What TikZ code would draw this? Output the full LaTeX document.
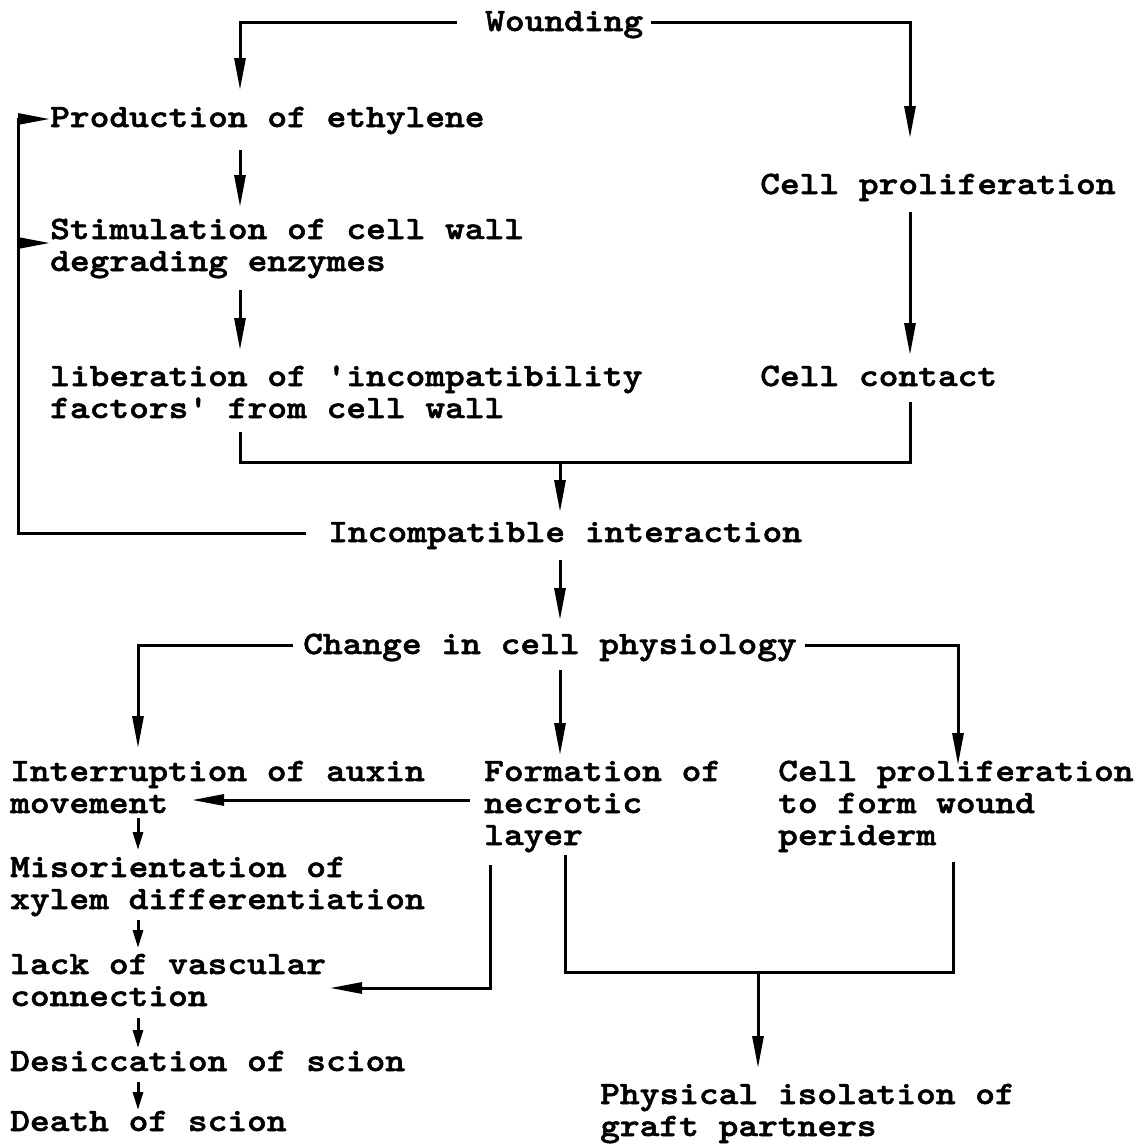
\documentclass[tikz,border=0pt]{standalone}
\usepackage{fontspec}
\newfontfamily\twfont{lmmonolt10-bold.otf}[FakeStretch=1.15,FakeBold=1.6]
\usetikzlibrary{arrows.meta}
% multi-line label whose base is the first line
\newcommand{\mlines}[1]{\begin{tabular}[t]{@{}l@{}}#1\end{tabular}}
\begin{document}
\begin{tikzpicture}[x=1pt,y=-1pt,
  lbl/.style={anchor=base west, inner sep=0pt,
    font=\twfont\fontsize{32.7}{32}\selectfont},
  ln/.style={line width=3pt},
  arr/.style={ln,-{Triangle[length=32pt,width=11pt]}},
  sarr/.style={ln,-{Triangle[length=18pt,width=10pt]}}]
\useasboundingbox (0,0) rectangle (1143,1144);

% vertical guide columns for the connectors
\coordinate (xL) at (240,0);
\coordinate (xR) at (910,0);
\coordinate (xM) at (560,0);
\coordinate (xA) at (138,0);
\coordinate (xF) at (18,0);
\coordinate (xN) at (490,0);
\coordinate (xG) at (565,0);
\coordinate (xP) at (953,0);
\coordinate (xQ) at (758,0);
\coordinate (xC) at (958,0);
\coordinate (jn) at (560,462);
\coordinate (jb) at (758,972);

% statements
\node[lbl] (w)    at (485,31)   {Wounding};
\node[lbl] (pe)   at (50,127)   {Production of ethylene};
\node[lbl] (cp1)  at (760,194)  {Cell proliferation};
\node[lbl] (stim) at (50,239)   {\mlines{Stimulation of cell wall\\degrading enzymes}};
\node[lbl] (lib)  at (50,386)   {\mlines{liberation of 'incompatibility\\factors' from cell wall}};
\node[lbl] (cc)   at (760,386)  {Cell contact};
\node[lbl] (ii)   at (328,542)  {Incompatible interaction};
\node[lbl] (ch)   at (303,654)  {Change in cell physiology};
\node[lbl] (iam)  at (10,781)   {\mlines{Interruption of auxin\\movement}};
\node[lbl] (fnl)  at (484,781)  {\mlines{Formation of\\necrotic\\layer}};
\node[lbl] (cpw)  at (778,781)  {\mlines{Cell proliferation\\to form wound\\periderm}};
\node[lbl] (mis)  at (10,877)   {\mlines{Misorientation of\\xylem differentiation}};
\node[lbl] (lack) at (10,974)   {\mlines{lack of vascular\\connection}};
\node[lbl] (des)  at (10,1071)  {Desiccation of scion};
\node[lbl] (death) at (10,1131) {Death of scion};
\node[lbl] (pi)   at (600,1104) {\mlines{Physical isolation of\\graft partners}};

% wounding branches
\draw[arr] ([shift={(-28pt,9pt)}]w.base west) -| ([yshift=37pt]pe.base -| xL);
\draw[arr] ([shift={(8pt,9pt)}]w.base east) -| ([yshift=56pt]cp1.base -| xR);

% left chain
\draw[arr] ([yshift=-23pt]pe.base -| xL) -- ([yshift=32pt]stim.base -| xL);
\draw[arr] ([yshift=-51pt]stim.base -| xL) -- ([yshift=36pt]lib.base -| xL);

% right chain
\draw[arr] ([yshift=-18pt]cp1.base -| xR) -- ([yshift=31pt]cc.base -| xR);

% join into incompatible interaction
\draw[ln] ([yshift=-46pt]lib.base -| xL) |- (jn) -| ([yshift=-16pt]cc.base -| xR);
\draw[arr] (jn) -- ([yshift=30pt]ii.base -| xM);

% feedback loop
\draw[arr] ([shift={(-22pt,9pt)}]ii.base west) -| ([yshift=8pt]pe.base west -| xF)
  -- ([yshift=8pt]pe.base west);
\draw[arr] ([yshift=-4pt]stim.base west -| xF) -- ([yshift=-4pt]stim.base west);

% to change in cell physiology
\draw[arr] ([yshift=-18pt]ii.base -| xM) -- ([yshift=34pt]ch.base -| xM);

% three branches
\draw[arr] ([shift={(-10pt,9pt)}]ch.base west) -| ([yshift=33pt]iam.base -| xA);
\draw[arr] ([shift={(8pt,9pt)}]ch.base east) -| ([yshift=16pt]cpw.base -| xC);
\draw[arr] ([yshift=-16pt]ch.base -| xM) -- ([yshift=26pt]fnl.base -| xM);

% necrotic layer to the left column
\draw[arr] ([shift={(-14pt,-19pt)}]fnl.base west) -- ([shift={(182pt,-19pt)}]iam.base west);
\draw[arr] ([yshift=-84pt]fnl.base -| xN) |- ([shift={(320pt,-14pt)}]lack.base west);

% left column sequence
\draw[sarr] ([yshift=-37pt]iam.base -| xA) -- ([yshift=27pt]mis.base -| xA);
\draw[sarr] ([yshift=-43pt]mis.base -| xA) -- ([yshift=26pt]lack.base -| xA);
\draw[sarr] ([yshift=-44pt]lack.base -| xA) -- ([yshift=23pt]des.base -| xA);
\draw[sarr] ([yshift=-11pt]des.base -| xA) -- ([yshift=21pt]death.base -| xA);

% isolation of graft partners
\draw[ln] ([yshift=-74pt]fnl.base -| xG) |- (jb) -| ([yshift=-81pt]cpw.base -| xP);
\draw[arr] (jb) -- ([yshift=36pt]pi.base -| xQ);
\end{tikzpicture}
\end{document}
